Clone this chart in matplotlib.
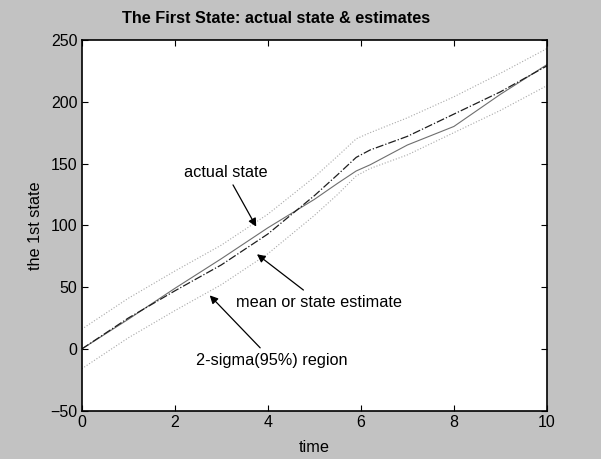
import matplotlib.pyplot as plt

# time samples and state values
t = [0, 1, 2, 3, 4, 5, 5.5, 5.9, 6.2, 7, 8, 9, 10]
actual = [0, 24, 49, 73, 98, 121, 134, 144, 149, 165, 180, 206, 230]
estimate = [0, 25, 47, 68, 93, 124, 141, 155, 161, 172, 190, 208, 229]
upper = [16, 41, 63, 84, 109, 139, 156, 170, 175, 187, 204, 223, 243]
lower = [-16, 9, 31, 52, 77, 108, 125, 140, 146, 157, 175, 193, 213]

plt.rcParams['font.family'] = ['Liberation Sans', 'DejaVu Sans']

fig = plt.figure(figsize=(6.01, 4.59), dpi=100, facecolor='#c2c2c2')
ax = fig.add_axes([0.136, 0.105, 0.774, 0.808])

ax.plot(t, upper, linestyle=':', color='#a8a8a8', linewidth=0.8)
ax.plot(t, lower, linestyle=':', color='#a8a8a8', linewidth=0.8)
ax.plot(t, actual, linestyle='-', color='#6e6e6e', linewidth=0.8)
ax.plot(t, estimate, linestyle='-.', color='#1e1e1e', linewidth=0.9)

ax.set_xlim(0, 10)
ax.set_ylim(-50, 250)
ax.set_xticks([0, 2, 4, 6, 8, 10])
ax.set_yticks([-50, 0, 50, 100, 150, 200, 250])
ax.tick_params(direction='in', length=4, labelsize=11.5, top=True, right=True, pad=3)
for s in ax.spines.values():
    s.set_linewidth(1.2)

# title sits a bit left of the axes centre in the original
ax.set_title('The First State: actual state & estimates', fontsize=11.7, fontweight='bold',
             pad=12, x=0.417)
ax.set_xlabel('time', fontsize=11.7, labelpad=7)
ax.set_ylabel('the 1st state', fontsize=11.7, labelpad=5)

arr = dict(arrowstyle='-|>', color='black', linewidth=0.9, mutation_scale=12)
ax.annotate('actual state', xy=(3.78, 97), xytext=(3.1, 143),
            ha='center', va='center', fontsize=11.7, arrowprops=arr)
ax.annotate('mean or state estimate', xy=(3.72, 78), xytext=(5.1, 38),
            ha='center', va='center', fontsize=11.7, arrowprops=arr)
ax.annotate('2-sigma(95%) region', xy=(2.71, 45), xytext=(4.09, -9),
            ha='center', va='center', fontsize=11.7, arrowprops=arr)

fig.savefig('out.png', dpi=100, facecolor=fig.get_facecolor())
